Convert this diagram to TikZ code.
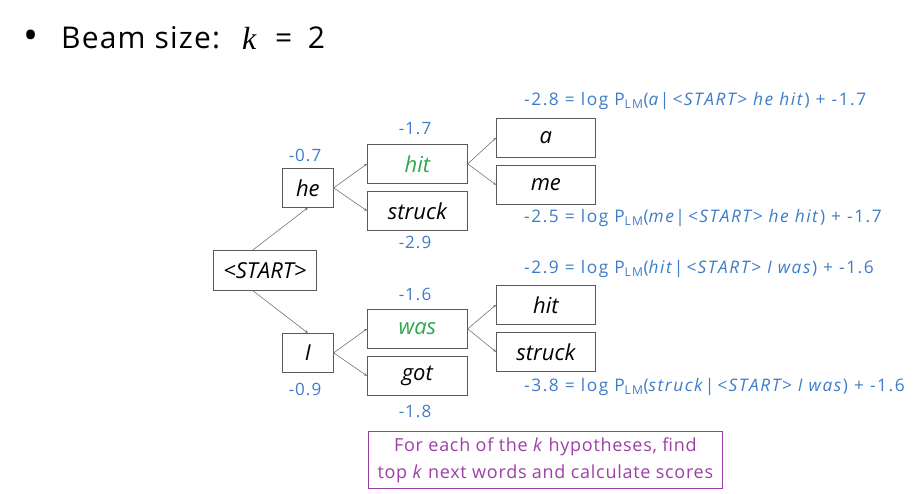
\documentclass[tikz,border=0pt]{standalone}
\usepackage{fontspec}
\setmainfont{Open Sans}
\newfontfamily\kfont{Liberation Serif}
\usetikzlibrary{arrows.meta}
\definecolor{scoreblue}{HTML}{3D7CC9}
\definecolor{hypgreen}{HTML}{2FA84A}
\definecolor{notepurple}{HTML}{9C3FA6}
\definecolor{boxgray}{HTML}{5A5A5A}
\newcommand{\spaced}[1]{\addfontfeatures{LetterSpace=#1}}
\tikzset{
  word/.style={draw=boxgray, line width=0.7pt, inner sep=0pt, anchor=north west, font=\fontsize{22}{26}\selectfont\itshape},
  score/.style={text=scoreblue, font=\fontsize{17}{20}\selectfont\spaced{6}, inner sep=0pt},
  formula/.style={text=scoreblue, font=\fontsize{17.3}{20}\selectfont\spaced{9}, inner sep=0pt, anchor=west},
  link/.style={draw=boxgray!90, line width=0.55pt, -{Stealth[length=3pt,width=2.5pt]}},
}
\newcommand{\wbox}[5]{\node[word, minimum width=#3pt, minimum height=#4pt] (#1) at (#2) {#5};}
\begin{document}
\begin{tikzpicture}[x=1pt,y=-1pt]
\useasboundingbox (0,0) rectangle (919,494);
% title
\node[inner sep=0pt, font=\fontsize{40}{40}\selectfont] (bullet) at (31,40) {•};
\node[inner sep=0pt, anchor=west, font=\fontsize{30}{34}\selectfont\spaced{4}] (title) at (61,38) {Beam size:};
\node[inner sep=0pt, anchor=west, font=\fontsize{32}{34}\kfont\itshape] (kk) at (242,38) {k};
\node[inner sep=0pt, anchor=west, font=\fontsize{30}{34}\selectfont] (eq) at (275,38) {= \ 2};
% boxes
\wbox{start}{213,250}{103}{40}{<START>}
\wbox{he}{282,168}{51}{39}{he}
\wbox{I}{282,333}{51}{39}{I}
\wbox{hit}{367,144}{100}{39}{\textcolor{hypgreen}{hit}}
\wbox{struck}{367,191}{100}{39}{struck}
\wbox{was}{367,309}{100}{39}{\textcolor{hypgreen}{was}}
\wbox{got}{367,356}{100}{39}{got}
\wbox{a}{496,118}{99}{39}{a}
\wbox{me}{496,165}{99}{39}{me}
\wbox{hitb}{496,285}{99}{39}{hit}
\wbox{struckb}{496,332}{99}{39}{struck}
% links
\coordinate (startT) at ([xshift=-12pt]start.north);
\coordinate (startB) at ([xshift=-12pt]start.south);
\draw[link] (startT) -- (he.south);
\draw[link] (startB) -- (I.north);
\draw[link] (he.east) -- (hit.west);
\draw[link] (he.east) -- (struck.west);
\draw[link] (I.east) -- (was.west);
\draw[link] (I.east) -- (got.west);
\draw[link] (hit.east) -- (a.west);
\draw[link] (hit.east) -- (me.west);
\draw[link] (was.east) -- (hitb.west);
\draw[link] (was.east) -- (struckb.west);
% scores
\node[score] (s1) at (305,155) {-0.7};
\node[score] (s2) at (415,129) {-1.7};
\node[score] (s3) at (415,242) {-2.9};
\node[score] (s4) at (415,294) {-1.6};
\node[score] (s5) at (305,389) {-0.9};
\node[score] (s6) at (415,411) {-1.8};
% formulas
\node[formula] (f1) at (524,101) {-2.8 = log P\textsubscript{LM}(\textit{a}|\,\textit{<START> he hit}) + -1.7};
\node[formula] (f2) at (524,218) {-2.5 = log P\textsubscript{LM}(\textit{me}|\,\textit{<START> he hit}) + -1.7};
\node[formula] (f3) at (524,269) {-2.9 = log P\textsubscript{LM}(\textit{hit}|\,\textit{<START> I was}) + -1.6};
\node[formula] (f4) at (524,387) {-3.8 = log P\textsubscript{LM}(\textit{struck}|\,\textit{<START> I was}) + -1.6};
% note
\node[draw=notepurple, line width=0.7pt, text=notepurple, anchor=north west, minimum width=354pt, minimum height=57pt, inner sep=0pt, align=center, font=\fontsize{18}{27}\selectfont\spaced{4}] (note) at (368,431) {For each of the \textit{k} hypotheses, find\\top \textit{k} next words and calculate scores};
\end{tikzpicture}
\end{document}
